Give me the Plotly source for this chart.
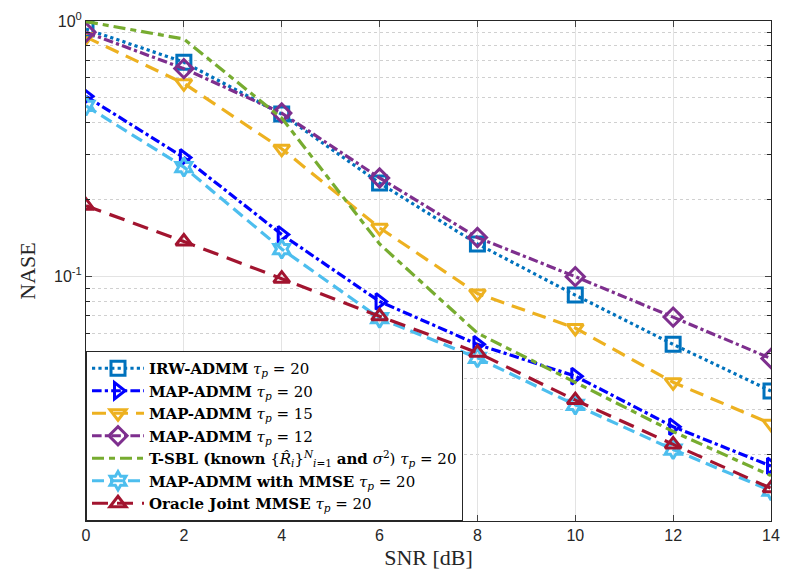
import plotly.graph_objects as go

snr = [0, 2, 4, 6, 8, 10, 12, 14]

irw_admm_20 = [0.93, 0.69, 0.432, 0.232, 0.134, 0.0845, 0.0542, 0.0356]
map_admm_20 = [0.507, 0.292, 0.146, 0.0798, 0.0542, 0.0407, 0.0258, 0.0181]
map_admm_15 = [0.865, 0.57, 0.316, 0.155, 0.0857, 0.0628, 0.0385, 0.0265]
map_admm_12 = [0.904, 0.651, 0.436, 0.243, 0.142, 0.0998, 0.0693, 0.0477]
tsbl_20 = [0.995, 0.85, 0.417, 0.134, 0.06, 0.0385, 0.0247, 0.0166]
map_mmse_20 = [0.465, 0.268, 0.128, 0.0686, 0.048, 0.0314, 0.021, 0.0145]
oracle_20 = [0.189, 0.137, 0.098, 0.0698, 0.0503, 0.0328, 0.022, 0.0148]

labels = [
    "<b>IRW-ADMM</b> <i>τ<sub>p</sub></i> = 20",
    "<b>MAP-ADMM</b> <i>τ<sub>p</sub></i> = 20",
    "<b>MAP-ADMM</b> <i>τ<sub>p</sub></i> = 15",
    "<b>MAP-ADMM</b> <i>τ<sub>p</sub></i> = 12",
    "<b>T-SBL (known</b> {<i>R̂<sub>i</sub></i>}<sup><i>N</i></sup><sub><i>i</i>=1</sub> <b>and</b> <i>σ</i><sup>2</sup>) <i>τ<sub>p</sub></i> = 20",
    "<b>MAP-ADMM with MMSE</b> <i>τ<sub>p</sub></i> = 20",
    "<b>Oracle Joint MMSE</b> <i>τ<sub>p</sub></i> = 20",
]
series = [irw_admm_20, map_admm_20, map_admm_15, map_admm_12, tsbl_20, map_mmse_20, oracle_20]
colors = ["#0072BD", "#0000FF", "#EDB120", "#7E2F8E", "#77AC30", "#4DBEEE", "#A2142F"]
dashes = ["dot", "dashdot", "14px,8px", "dashdot", "12px,5px,6px,5px", "12px,6px", "16px,9px"]
symbols = ["square-open", "triangle-right-open", "triangle-down-open", "diamond-open",
           None, "hexagram-open", "triangle-up-open"]

fig = go.Figure()
for lab, ys, c, d, s in zip(labels, series, colors, dashes, symbols):
    mode = "lines+markers" if s else "lines"
    kw = dict(marker=dict(symbol=s, size=14, color=c, line=dict(width=3, color=c))) if s else {}
    fig.add_trace(go.Scatter(x=snr, y=ys, name=lab, mode=mode,
                             line=dict(color=c, width=3.2, dash=d), **kw))

minor_vals = [k * 0.01 for k in range(2, 10)] + [k * 0.1 for k in range(2, 10)]

fig.update_layout(
    width=790, height=586,
    margin=dict(l=86, r=10, t=14, b=65),
    paper_bgcolor="white", plot_bgcolor="white",
    font=dict(family="Liberation Sans", size=15, color="#262626"),
    legend=dict(x=0, y=0, xanchor="left", yanchor="bottom",
                bgcolor="white", bordercolor="#262626", borderwidth=1,
                font=dict(family="DejaVu Serif", size=15, color="black"),
                itemwidth=52, tracegroupgap=0),
    showlegend=True,
)
fig.update_xaxes(
    range=[0, 14], tickvals=snr, ticks="inside", ticklen=6,
    showline=True, linecolor="#262626", linewidth=1, mirror="ticks",
    showgrid=True, gridcolor="#e3e3e3", gridwidth=1, zeroline=False,
    tickfont=dict(family="Liberation Sans", size=16, color="#262626"),
    title=dict(text="SNR [dB]", font=dict(family="Liberation Serif", size=22, color="#262626"), standoff=6),
)
fig.update_yaxes(
    type="log", range=[-1.9575, 0],
    tickvals=[0.1, 1], ticktext=["10<sup>-1</sup>", "10<sup>0</sup>"],
    ticks="inside", ticklen=6,
    showline=True, linecolor="#262626", linewidth=1, mirror="ticks",
    showgrid=True, gridcolor="#e3e3e3", gridwidth=1, zeroline=False,
    minor=dict(tickvals=minor_vals, ticks="inside", ticklen=4, tickcolor="#262626",
               showgrid=True, gridcolor="#d0d0d0", griddash="dot", gridwidth=1),
    tickfont=dict(family="Liberation Sans", size=16, color="#262626"),
    title=dict(text="NASE", font=dict(family="Liberation Serif", size=22, color="#262626"), standoff=12),
)

fig.write_html("out.html")
